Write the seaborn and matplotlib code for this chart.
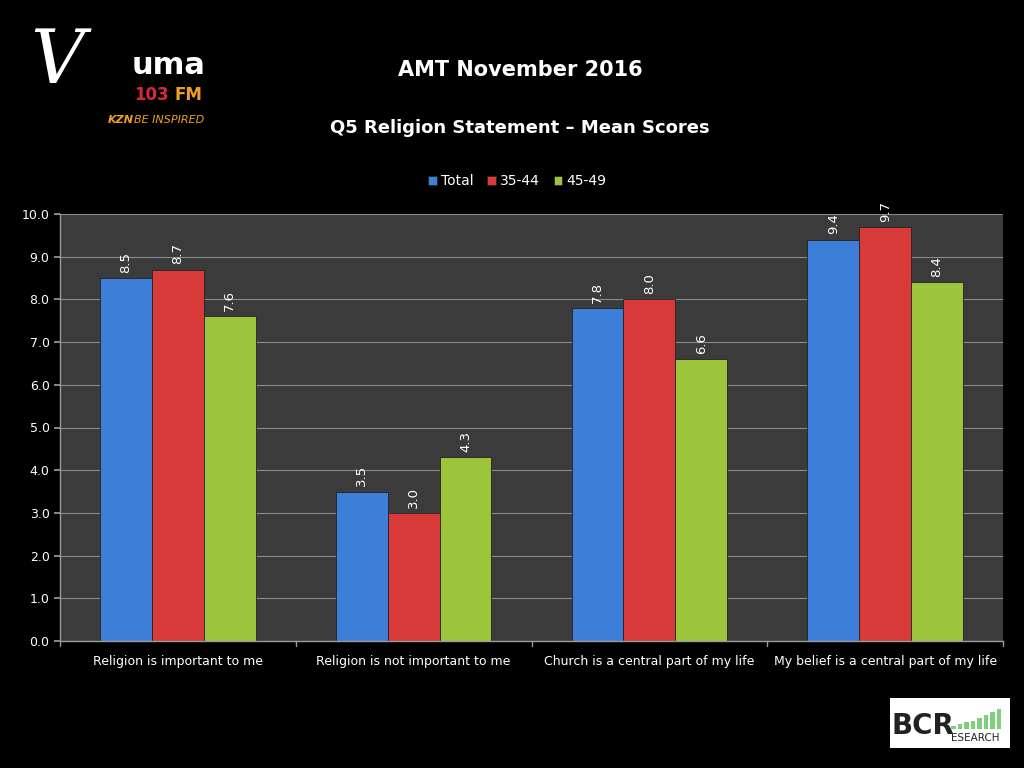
import matplotlib
matplotlib.use("Agg")
import matplotlib.pyplot as plt
import seaborn as sns
import pandas as pd
from matplotlib.patches import Rectangle

categories = ["Religion is important to me", "Religion is not important to me",
              "Church is a central part of my life", "My belief is a central part of my life"]
series = ["Total", "35-44", "45-49"]
total = [8.5, 3.5, 7.8, 9.4]
age_35_44 = [8.7, 3.0, 8.0, 9.7]
age_45_49 = [7.6, 4.3, 6.6, 8.4]
yticks = [0.0, 1.0, 2.0, 3.0, 4.0, 5.0, 6.0, 7.0, 8.0, 9.0, 10.0]

colors = ["#3d7fd8", "#d83a3a", "#9cc53c"]

rows = []
for s, vals in zip(series, [total, age_35_44, age_45_49]):
    for c, v in zip(categories, vals):
        rows.append({"Category": c, "Series": s, "Value": v})
df = pd.DataFrame(rows)

sns.set_theme(style="dark")
plt.rcParams['font.family'] = ['DejaVu Sans']

fig = plt.figure(figsize=(10.24, 7.68), dpi=100, facecolor="black")
ax = fig.add_axes([60/1024, 1-641/768, (1003-60)/1024, (641-214)/768])
ax.set_facecolor("#3b3b3b")

sns.barplot(data=df, x="Category", y="Value", hue="Series", palette=colors,
            saturation=1, width=0.66, ax=ax, edgecolor="#222222", linewidth=0.6,
            legend=True)

ax.set_ylim(0, 10)
ax.set_xlim(-0.5, 3.5)
ax.set_yticks(yticks)
ax.set_yticklabels([f"{t:.1f}" for t in yticks], color="white", fontsize=9)
ax.yaxis.grid(True, color="#8a8a8a", linewidth=0.8)
ax.xaxis.grid(False)
ax.set_axisbelow(True)
ax.set_xlabel("")
ax.set_ylabel("")
ax.tick_params(axis="x", colors="white", labelsize=9, length=0, pad=10)
ax.tick_params(axis="y", colors="white", length=4, left=True, color="#999999")
for sp in ["top", "right"]:
    ax.spines[sp].set_visible(False)
for sp in ["left", "bottom"]:
    ax.spines[sp].set_visible(True)
    ax.spines[sp].set_color("#9a9a9a")
    ax.spines[sp].set_linewidth(1)

# category separators on x axis
for xb in [-0.5, 0.5, 1.5, 2.5, 3.5]:
    ax.plot([xb, xb], [0, -0.12], color="#9a9a9a", lw=1, clip_on=False)

# value labels
for cont in ax.containers:
    for bar in cont:
        h = bar.get_height()
        ax.text(bar.get_x() + bar.get_width()/2, h + 0.12, f"{h:.1f}",
                rotation=90, ha="center", va="bottom", color="white", fontsize=9.5)

# legend
leg = ax.legend(loc="upper center", bbox_to_anchor=(0.485, 1.122), ncol=3, frameon=False,
                fontsize=10, handlelength=0.6, handleheight=0.6, handletextpad=0.3,
                columnspacing=1.0)
for t in leg.get_texts():
    t.set_color("white")

# titles
fig.text(0.508, 1-70/768, "AMT November 2016", color="white", fontsize=15,
         fontweight="bold", ha="center", va="center")
fig.text(0.508, 1-128/768, "Q5 Religion Statement \u2013 Mean Scores", color="white",
         fontsize=13, fontweight="bold", ha="center", va="center")

# Vuma logo (text)
fig.text(30/1024, 1-62/768, "V", color="white", fontsize=54, fontstyle="italic",
         family="DejaVu Serif", ha="left", va="center")
fig.text(132/1024, 1-66/768, "uma", color="white", fontsize=22, fontweight="bold",
         ha="left", va="center")
fig.text(134/1024, 1-95/768, "103", color="#d8283a", fontsize=12, fontweight="bold",
         ha="left", va="center")
fig.text(174/1024, 1-95/768, "FM", color="#f0a020", fontsize=12, fontweight="bold",
         ha="left", va="center")
fig.text(108/1024, 1-120/768, "KZN", color="#f0a020", fontsize=8, fontweight="bold",
         fontstyle="italic", ha="left", va="center")
fig.text(134/1024, 1-120/768, "BE INSPIRED", color="#f0a020", fontsize=8,
         fontstyle="italic", ha="left", va="center")

# BCR logo (text on white box)
fig.patches.append(Rectangle((890/1024, 1-748/768), 120/1024, 50/768,
                             transform=fig.transFigure, facecolor="white", edgecolor="none"))
for i, hpx in enumerate([3, 5, 7, 8, 11, 14, 17, 20]):
    fig.patches.append(Rectangle(((951 + i*6.5)/1024, 1-(729)/768 + 0/768), 4.5/1024, hpx/768,
                                 transform=fig.transFigure, facecolor="#7ed07e",
                                 edgecolor="none"))
fig.text(892/1024, 1-726/768, "BCR", color="#222222", fontsize=20, fontweight="bold",
         ha="left", va="center")
fig.text(951/1024, 1-738/768, "ESEARCH", color="#222222", fontsize=7.5,
         ha="left", va="center")

fig.savefig("out.png", dpi=100, facecolor="black")
